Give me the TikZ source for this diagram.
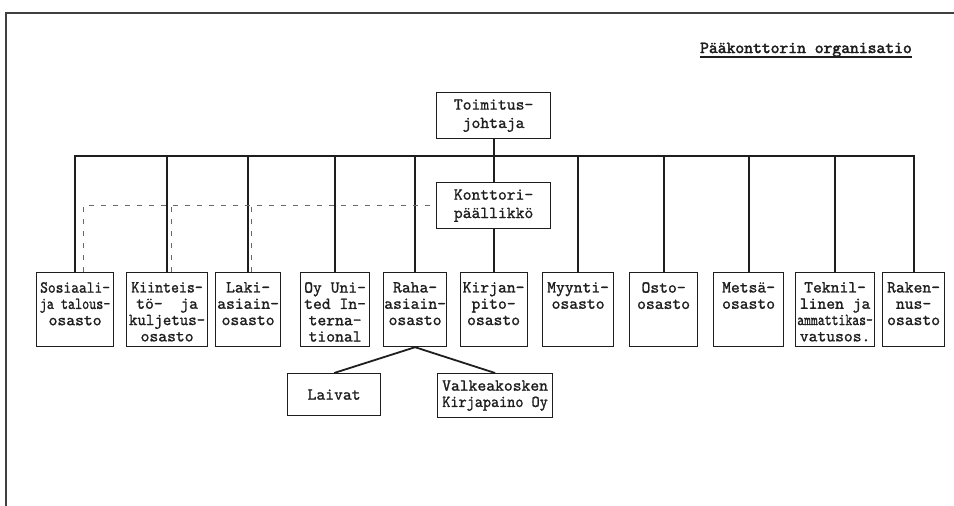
\documentclass[tikz,border=0pt]{standalone}
\usepackage{fontspec}
\usepackage{tikz}
\newfontfamily\typedfont{lmmono10-regular.otf}[FakeBold=1.2]
\newfontfamily\headfont{lmmono10-regular.otf}[FakeBold=2.4]
\definecolor{ink}{RGB}{30,30,30}
\definecolor{dashgray}{RGB}{105,105,105}
\newcommand{\squeeze}[2]{\scalebox{#1}[1]{#2}}

\begin{document}
\begin{tikzpicture}[x=1pt,y=1pt,yscale=-1,
  typed/.style={font=\fontsize{16.8}{16.3}\selectfont\typedfont, text=ink},
  dept/.style={draw=ink, line width=1.2pt, anchor=north west, inner sep=0pt, minimum height=74, minimum width=#1},
  depttext/.style={typed, anchor=north, align=center, inner xsep=0pt, inner ysep=10pt},
  chief/.style={draw=ink, line width=1.2pt, align=center, anchor=north west, inner sep=0pt, minimum width=114, minimum height=46, text=ink, font=\fontsize{16.8}{18.4}\selectfont\typedfont},
  sub/.style={draw=ink, line width=1.2pt, typed, align=center, anchor=north west, inner sep=0pt, minimum width=#1, minimum height=42},
  heading/.style={anchor=base east, inner sep=0pt, text=ink, font=\fontsize{16.8}{18}\selectfont\headfont},
  underline/.style={draw=ink, line width=2pt},
  link/.style={draw=ink, line width=1.8pt},
  dotlink/.style={draw=dashgray, line width=0.9pt, dash pattern=on 5pt off 7pt},
  sheetedge/.style={draw=black!75, line width=2pt}]
\useasboundingbox (0,0) rectangle (954,506);

%Sheet edges
\draw[sheetedge] (5,13) -- (954,13);
\draw[sheetedge] (6,13) -- (6,506);

% Text Node
\node[heading] (title) at (912,53) {Pääkonttorin organisatio};
\draw[underline] ([shift={(0,3.5)}]title.base west) -- ([shift={(0,3.5)}]title.base east);

%Shape: Rectangle (top)
\node[chief] (toim) at (436,92) {Toimitus-\\johtaja};
\node[chief] (kont) at (436,182) {Konttori-\\päällikkö};

%Shape: Rectangle (departments)
\node[dept=77] (sos) at (36,272) {};
\node[dept=81] (kiin) at (126,272) {};
\node[dept=65] (laki) at (215,272) {};
\node[dept=69] (unit) at (300,272) {};
\node[dept=63] (raha) at (383,272) {};
\node[dept=67] (kirj) at (459.5,272) {};
\node[dept=71] (myyn) at (542,272) {};
\node[dept=68] (osto) at (629,272) {};
\node[dept=70] (mets) at (713,272) {};
\node[dept=79] (tekn) at (795,272) {};
\node[dept=62] (rake) at (882,272) {};

% Text Node
\node[depttext] (sos-t) at (sos.north) {\squeeze{0.88}{Sosiaali-}\\\squeeze{0.8}{ja talous-}\\osasto};
\node[depttext] (kiin-t) at (kiin.north) {\squeeze{0.9}{Kiinteis-}\\tö-~~ja\\\squeeze{0.96}{kuljetus-}\\osasto};
\node[depttext] (laki-t) at (laki.north) {Laki-\\asiain-\\osasto};
\node[depttext] (unit-t) at (unit.north) {Oy Uni-\\ted In-\\terna-\\tional};
\node[depttext] (raha-t) at (raha.north) {Raha-\\asiain-\\osasto};
\node[depttext] (kirj-t) at (kirj.north) {Kirjan-\\pito-\\osasto};
\node[depttext] (myyn-t) at (myyn.north) {Myynti-\\osasto};
\node[depttext] (osto-t) at (osto.north) {Osto-\\osasto};
\node[depttext] (mets-t) at (mets.north) {Metsä-\\osasto};
\node[depttext] (tekn-t) at (tekn.north) {Teknil-\\linen ja\\\squeeze{0.78}{ammattikas-}\\vatusos.};
\node[depttext] (rake-t) at (rake.north) {Raken-\\nus-\\osasto};

%Shape: Rectangle (under Raha-asiainosasto)
\node[sub=93] (laiv) at (287,373) {Laivat};
\node[sub=115, minimum height=44] (valk) at (437,373) {Valkeakosken\\\squeeze{0.92}{Kirjapaino Oy}};

%Straight Lines
\coordinate (bus) at (0,156);
\draw[link] (toim.south) -- (kont.north);
\draw[link] (sos.north) -- (sos.north |- bus) -- (rake.north |- bus) -- (rake.north);
\foreach \d in {kiin,laki,unit,raha,myyn,osto,mets,tekn}
  \draw[link] (\d.north) -- (\d.north |- bus);
\draw[link] (kont.south) -- (kirj.north);
\draw[link] (raha.south) -- (laiv.north);
\draw[link] (raha.south) -- (valk.north);

%Dashed Lines
\draw[dotlink] ([xshift=8pt]sos.north) |- (kont.west);
\draw[dotlink] ([xshift=4pt]kiin.north) -- ([xshift=4pt]kiin.north |- kont.west);
\draw[dotlink] ([xshift=3pt]laki.north) -- ([xshift=3pt]laki.north |- kont.west);

\end{tikzpicture}
\end{document}
